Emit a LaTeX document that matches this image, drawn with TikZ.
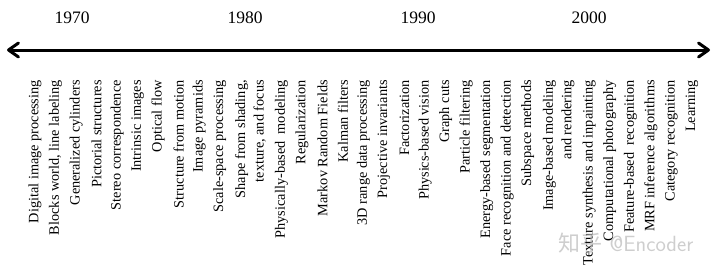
\documentclass[tikz,border=0pt]{standalone}
\usepackage{fontspec}
\setmainfont{Liberation Serif}
\newfontfamily\cjkfont{Noto Sans CJK SC}
\usetikzlibrary{arrows.meta}
\begin{document}
\begin{tikzpicture}[x=1pt, y=1pt, line width=0.5pt,
  every node/.style={inner sep=0pt},
  event/.style={rotate=90, anchor=east, align=right, font=\fontsize{14.3}{18.5}\selectfont},
  year/.style={font=\fontsize{17.5}{20}\selectfont}]
  \useasboundingbox (0,0) rectangle (720,274);
  \coordinate (tstart) at (7,224);
  \coordinate (tend) at (710,224);
  \draw[line width=3pt, {Straight Barb[length=10pt, width=14pt, round]}-{Straight Barb[length=10pt, width=14pt, round]}] (tstart) -- (tend);
  \node[year] (y1970) at (72,256) {1970};
  \node[year] (y1980) at (245,256) {1980};
  \node[year] (y1990) at (418,256) {1990};
  \node[year] (y2000) at (589,256) {2000};
  \node[event] (digital) at (35.0,194) {Digital image processing};
  \node[event] (blocks) at (55.5,194) {Blocks world, line labeling};
  \node[event] (cylinders) at (76.1,194) {Generalized cylinders};
  \node[event] (pictorial) at (96.6,194) {Pictorial structures};
  \node[event] (stereo) at (117.1,194) {Stereo correspondence};
  \node[event] (intrinsic) at (137.7,194) {Intrinsic images};
  \node[event] (flow) at (158.2,194) {Optical flow};
  \node[event] (sfm) at (178.7,194) {Structure from motion};
  \node[event] (pyramids) at (199.2,194) {Image pyramids};
  \node[event] (scalespace) at (219.8,194) {Scale-space processing};
  \node[event] (shading) at (250.5,194) {Shape from shading,\\texture, and focus};
  \node[event] (physmodel) at (281.4,194) {Physically-based\ \ modeling};
  \node[event] (regular) at (301.9,194) {Regularization};
  \node[event] (markov) at (322.4,194) {Markov Random Fields};
  \node[event] (kalman) at (343.0,194) {Kalman filters};
  \node[event] (range) at (363.5,194) {3D range data processing};
  \node[event] (projective) at (384.0,194) {Projective invariants};
  \node[event] (factor) at (404.5,194) {Factorization};
  \node[event] (physvision) at (425.1,194) {Physics-based vision};
  \node[event] (graphcuts) at (445.6,194) {Graph cuts};
  \node[event] (particle) at (466.1,194) {Particle filtering};
  \node[event] (energy) at (486.7,194) {Energy-based segmentation};
  \node[event] (face) at (507.2,194) {Face recognition and detection};
  \node[event] (subspace) at (527.7,194) {Subspace methods};
  \node[event] (ibmr) at (558.6,194) {Image-based modeling\\and rendering};
  \node[event] (texture) at (589.3,194) {Texture synthesis and inpainting};
  \node[event] (photo) at (609.8,194) {Computational photography};
  \node[event] (feature) at (630.4,194) {Feature-based\ \ recognition};
  \node[event] (mrf) at (650.9,194) {MRF inference algorithms};
  \node[event] (category) at (671.4,194) {Category recognition};
  \node[event] (learning) at (692.0,194) {Learning};
  \node[text=gray!55, opacity=0.7, font=\fontsize{22}{24}\selectfont\sffamily] (mark) at (626,31) {{\cjkfont 知乎} @Encoder};
\end{tikzpicture}
\end{document}
